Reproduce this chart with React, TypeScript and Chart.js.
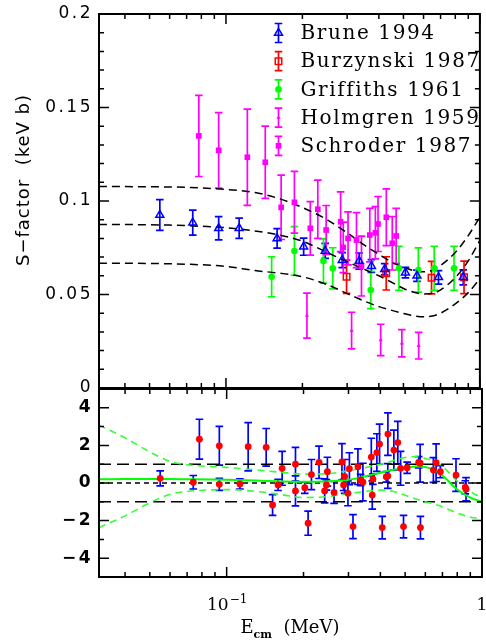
import React, { useEffect, useRef } from "react";
import { Chart, registerables } from "chart.js";

Chart.register(...registerables);

// ---------- axis ranges ----------
const E_MIN = 0.031623;
const E_MAX = 1;
const S_MIN = 0;
const S_MAX = 0.2;
const R_MIN = -5;
const R_MAX = 5;

// ---------- tick labels ----------
const sTickValues = [0, 0.05, 0.1, 0.15, 0.2];
const sTickLabels = ["0", "0.05", "0.1", "0.15", "0.2"];
const rTickValues = [-4, -2, 0, 2, 4];
const rTickLabels = ["\u22124", "\u22122", "0", "2", "4"];
const xMajorTicks = [0.1, 1];
const xMinorTicks = [0.04, 0.05, 0.06, 0.07, 0.08, 0.09, 0.2, 0.3, 0.4, 0.5, 0.6, 0.7, 0.8, 0.9];
const xTickBase = ["10", "1"];
const xTickExp = ["\u22121", ""];

// ---------- measurements: E (MeV), S (keV b), error ----------
const seriesNames = ["Brune 1994", "Burzynski 1987", "Griffiths 1961", "Holmgren 1959", "Schroder 1987"];

const bruneE = [0.0549, 0.074, 0.0936, 0.1127, 0.159, 0.2023, 0.2459, 0.287, 0.3346, 0.3739, 0.4217, 0.509, 0.565, 0.687, 0.86];
const bruneS = [0.0925, 0.0884, 0.0854, 0.0854, 0.080, 0.0756, 0.0733, 0.0684, 0.0679, 0.0652, 0.0635, 0.0617, 0.0600, 0.0592, 0.0592];
const bruneErr = [0.0082, 0.0067, 0.0062, 0.0054, 0.0052, 0.0046, 0.0040, 0.0040, 0.0043, 0.0034, 0.0030, 0.0028, 0.0030, 0.0036, 0.0040];

const burzE = [0.2985, 0.4277, 0.645, 0.866];
const burzS = [0.0595, 0.0613, 0.059, 0.0592];
const burzErr = [0.0089, 0.0089, 0.0087, 0.0087];

const grifE = [0.1513, 0.186, 0.242, 0.2634, 0.3717, 0.48, 0.5723, 0.661, 0.791];
const grifS = [0.0595, 0.0733, 0.0679, 0.064, 0.0524, 0.064, 0.0631, 0.064, 0.064];
const grifErr = [0.0107, 0.013, 0.0118, 0.011, 0.010, 0.0118, 0.0118, 0.0118, 0.0118];

const holmE = [0.2084, 0.3124, 0.4067, 0.4928, 0.574];
const holmS = [0.0387, 0.0307, 0.0257, 0.0239, 0.0226];
const holmErr = [0.012, 0.0098, 0.0084, 0.0073, 0.0071];

const schE = [0.0782, 0.0936, 0.1214, 0.1428, 0.1649, 0.186, 0.2148, 0.23, 0.248, 0.2828, 0.2897, 0.3025, 0.3266, 0.3417, 0.3685, 0.3875, 0.397, 0.428, 0.4517, 0.468];
const schS = [0.1348, 0.1271, 0.1234, 0.1207, 0.0966, 0.0993, 0.0854, 0.0956, 0.0845, 0.0889, 0.0752, 0.080, 0.0791, 0.0652, 0.0818, 0.083, 0.0877, 0.0913, 0.0774, 0.0813];
const schErr = [0.0217, 0.0202, 0.0257, 0.0193, 0.0172, 0.0165, 0.0143, 0.0156, 0.0131, 0.016, 0.0135, 0.0142, 0.0147, 0.016, 0.0143, 0.014, 0.0147, 0.0152, 0.0143, 0.0148];

// ---------- residuals, same energies as above ----------
const bruneRes = [0.25, 0.04, -0.07, -0.05, -0.1, -0.25, -0.1, -0.1, 0.16, 0.21, 0.33, 0.81, 1.1, 0.6, -0.23];
const bruneResErr = [0.4, 0.36, 0.32, 0.27, 0.3, 0.3, 0.28, 0.3, 0.3, 0.28, 0.28, 0.3, 0.3, 0.32, 0.35];
const burzRes = [-0.55, 0.37, 0.69, -0.33];
const burzResErr = [0.66, 0.66, 0.66, 0.62];
const grifRes = [-1.17, -0.42, -0.42, -0.5, -0.64, 0.78, 1.05, 1.08, 0.42];
const grifResErr = [0.55, 0.8, 0.64, 0.58, 0.75, 0.9, 1.0, 1.0, 0.87];
const holmRes = [-2.14, -2.32, -2.37, -2.32, -2.37];
const holmResErr = [0.64, 0.64, 0.6, 0.6, 0.6];
const schRes = [2.33, 1.98, 1.93, 1.9, 0.78, 1.0, 0.45, 1.1, 0.6, 1.12, 0.35, 0.76, 0.87, 0.05, 1.38, 1.62, 2.07, 2.6, 1.75, 2.15];
const schResErr = [1.06, 1.03, 1.28, 1.0, 0.9, 0.9, 0.8, 0.86, 0.77, 0.97, 0.9, 0.85, 0.95, 1.0, 1.0, 1.0, 1.06, 1.13, 1.06, 1.13];

// ---------- fitted curves, sampled on a common energy grid ----------
const curveE = [0.0316, 0.04, 0.05, 0.06, 0.07, 0.1, 0.13, 0.16, 0.2, 0.25, 0.3, 0.35, 0.4, 0.45, 0.5, 0.55, 0.6, 0.65, 0.7, 0.8, 0.9, 1.0];
const fitMid = [0.0875, 0.0874, 0.0873, 0.0871, 0.0868, 0.0857, 0.0840, 0.0820, 0.0785, 0.0725, 0.0675, 0.0635, 0.0600, 0.0565, 0.0532, 0.0512, 0.0503, 0.0505, 0.0525, 0.0590, 0.0680, 0.0790];
const fitHigh = [0.1077, 0.1077, 0.1076, 0.1075, 0.1073, 0.1062, 0.1045, 0.1015, 0.0965, 0.0900, 0.0830, 0.0765, 0.0715, 0.0673, 0.0645, 0.0628, 0.0622, 0.0630, 0.0655, 0.0725, 0.0815, 0.0915];
const fitLow = [0.0667, 0.0667, 0.0666, 0.0664, 0.0662, 0.0650, 0.0628, 0.0615, 0.0595, 0.0553, 0.0505, 0.0465, 0.0435, 0.0415, 0.0398, 0.0386, 0.0381, 0.0385, 0.0400, 0.0450, 0.0510, 0.0585];
const resCurve = [0.20, 0.21, 0.21, 0.21, 0.20, 0.17, 0.13, 0.09, 0.06, 0.09, 0.17, 0.36, 0.55, 0.70, 0.80, 0.88, 0.85, 0.68, 0.40, -0.35, -0.78, -1.0];
const resBandHigh = [3.08, 2.4, 1.65, 1.15, 0.97, 0.83, 0.70, 0.58, 0.47, 0.50, 0.65, 0.82, 1.0, 1.2, 1.36, 1.4, 1.3, 1.15, 0.88, 0.1, -0.45, -0.8];
const resBandLow = [-2.37, -1.75, -1.05, -0.6, -0.45, -0.35, -0.45, -0.6, -0.77, -0.72, -0.56, -0.45, -0.38, -0.45, -0.65, -0.85, -1.0, -1.13, -1.27, -1.6, -1.82, -1.88];
const resLevels = [-1, 0, 1];

// ---------- styling ----------
const BLUE = "#0000ff";
const RED = "#ff0000";
const GREEN = "#00ff00";
const MAGENTA = "#ff00ff";
const LIME = "#33ff33";
const SANS = '"DejaVu Sans", sans-serif';
const SERIF = '"DejaVu Serif", serif';

type Marker = { style: string; r: number; color: string; filled: boolean };
const markers: Marker[] = [
  { style: "triangle", r: 4.6, color: BLUE, filled: false },
  { style: "rect", r: 4.6, color: RED, filled: false },
  { style: "circle", r: 3.3, color: GREEN, filled: true },
  { style: "triangle", r: 2.4, color: MAGENTA, filled: true },
  { style: "rect", r: 4.0, color: MAGENTA, filled: true },
];

const pts = (xs: number[], ys: number[]) => xs.map((x, i) => ({ x, y: ys[i] }));

function drawMarker(ctx: CanvasRenderingContext2D, m: Marker, x: number, y: number) {
  ctx.save();
  ctx.beginPath();
  if (m.style === "circle") {
    ctx.arc(x, y, m.r, 0, Math.PI * 2);
  } else if (m.style === "rect") {
    const h = m.r * Math.SQRT1_2;
    ctx.rect(x - h, y - h, 2 * h, 2 * h);
  } else {
    for (let k = 0; k < 3; k++) {
      const a = (k * 2 * Math.PI) / 3;
      const px = x + Math.sin(a) * m.r;
      const py = y - Math.cos(a) * m.r;
      if (k === 0) ctx.moveTo(px, py);
      else ctx.lineTo(px, py);
    }
    ctx.closePath();
  }
  if (m.filled) {
    ctx.fillStyle = m.color;
    ctx.fill();
  } else {
    ctx.strokeStyle = m.color;
    ctx.lineWidth = 1.5;
    ctx.stroke();
  }
  ctx.restore();
}

function strokeErrorBar(ctx: CanvasRenderingContext2D, x: number, y1: number, y2: number, cap: number) {
  ctx.moveTo(x, y1);
  ctx.lineTo(x, y2);
  ctx.moveTo(x - cap, y1);
  ctx.lineTo(x + cap, y1);
  ctx.moveTo(x - cap, y2);
  ctx.lineTo(x + cap, y2);
}

// vertical error bars for datasets carrying an `errorBars` array
const errorBarPlugin = {
  id: "errorBars",
  beforeDatasetsDraw(chart: any) {
    const { ctx, chartArea: a, scales } = chart;
    ctx.save();
    ctx.beginPath();
    ctx.rect(a.left, a.top, a.right - a.left, a.bottom - a.top);
    ctx.clip();
    chart.data.datasets.forEach((ds: any) => {
      if (!ds.errorBars) return;
      ctx.strokeStyle = ds.errorColor;
      ctx.lineWidth = 1.7;
      ctx.beginPath();
      ds.data.forEach((p: any, i: number) => {
        const e = ds.errorBars[i];
        const x = scales.x.getPixelForValue(p.x);
        strokeErrorBar(ctx, x, scales.y.getPixelForValue(p.y - e), scales.y.getPixelForValue(p.y + e), 3.8);
      });
      ctx.stroke();
    });
    ctx.restore();
  },
};

type PanelCfg = {
  yValues: number[];
  yLabels: string[];
  yMinorStep: number;
  yLabelFont: string;
  yLabelRight: number;
  yTitle: string;
  yTitleX: number;
  yTitleY: number;
  xLabels: boolean;
};

function makeFramePlugin(cfg: PanelCfg) {
  return {
    id: "frame",
    afterDraw(chart: any) {
      const { ctx, chartArea: a, scales } = chart;
      const xs = scales.x;
      const ys = scales.y;
      const MAJ = 10;
      const MIN = 5;
      ctx.save();
      ctx.strokeStyle = "#000";
      ctx.lineWidth = 1.5;
      ctx.beginPath();
      const xTick = (v: number, len: number) => {
        const px = xs.getPixelForValue(v);
        ctx.moveTo(px, a.top);
        ctx.lineTo(px, a.top + len);
        ctx.moveTo(px, a.bottom);
        ctx.lineTo(px, a.bottom - len);
      };
      xMinorTicks.forEach((v) => xTick(v, MIN));
      xMajorTicks.forEach((v) => xTick(v, MAJ));
      const yTick = (v: number, len: number) => {
        const py = ys.getPixelForValue(v);
        ctx.moveTo(a.left, py);
        ctx.lineTo(a.left + len, py);
        ctx.moveTo(a.right, py);
        ctx.lineTo(a.right - len, py);
      };
      const lo = ys.min;
      const hi = ys.max;
      for (let v = lo; v <= hi + 1e-9; v += cfg.yMinorStep) yTick(v, MIN);
      cfg.yValues.forEach((v) => yTick(v, MAJ));
      ctx.stroke();

      ctx.lineWidth = 2;
      ctx.strokeRect(a.left, a.top, a.right - a.left, a.bottom - a.top);

      // y tick labels
      ctx.fillStyle = "#000";
      ctx.font = cfg.yLabelFont;
      (ctx as any).letterSpacing = "2.5px";
      ctx.textAlign = "right";
      ctx.textBaseline = "middle";
      cfg.yValues.forEach((v, i) => {
        ctx.fillText(cfg.yLabels[i], cfg.yLabelRight, ys.getPixelForValue(v));
      });

      // y title
      ctx.save();
      ctx.translate(cfg.yTitleX, cfg.yTitleY);
      ctx.rotate(-Math.PI / 2);
      ctx.font = `18px ${SANS}`;
      (ctx as any).letterSpacing = "1px";
      ctx.textAlign = "center";
      ctx.textBaseline = "middle";
      ctx.fillText(cfg.yTitle, 0, 0);
      ctx.restore();

      if (cfg.xLabels) {
        (ctx as any).letterSpacing = "0px";
        ctx.textBaseline = "alphabetic";
        const base = a.bottom + 33;
        xMajorTicks.forEach((v, i) => {
          const px = xs.getPixelForValue(v);
          ctx.font = `17px ${SERIF}`;
          const wb = ctx.measureText(xTickBase[i]).width;
          ctx.font = `12px ${SERIF}`;
          const we = xTickExp[i] ? ctx.measureText(xTickExp[i]).width : 0;
          const start = px - (wb + we) / 2;
          ctx.textAlign = "left";
          ctx.font = `17px ${SERIF}`;
          ctx.fillText(xTickBase[i], start, base);
          if (xTickExp[i]) {
            ctx.font = `12px ${SERIF}`;
            ctx.fillText(xTickExp[i], start + wb + 1, base - 7);
          }
        });
        // x title: E_cm (MeV)
        const tb = a.bottom + 56;
        ctx.font = `18px ${SERIF}`;
        const wE = ctx.measureText("E").width;
        const wRest = ctx.measureText("  (MeV)").width;
        ctx.font = `bold 11px ${SERIF}`;
        const wSub = ctx.measureText("cm").width;
        const x0 = 290 - (wE + wSub + wRest) / 2;
        ctx.textAlign = "left";
        ctx.font = `18px ${SERIF}`;
        ctx.fillText("E", x0, tb);
        ctx.font = `bold 11px ${SERIF}`;
        ctx.fillText("cm", x0 + wE, tb + 5);
        ctx.font = `18px ${SERIF}`;
        ctx.fillText("  (MeV)", x0 + wE + wSub, tb);
      }
      ctx.restore();
    },
  };
}

// legend with error-bar glyphs, upper right of the S-factor panel
const legendPlugin = {
  id: "seriesLegend",
  afterDraw(chart: any) {
    const { ctx } = chart;
    ctx.save();
    seriesNames.forEach((name, i) => {
      const y = 33 + i * 28.2;
      const x = 278.5;
      const m = markers[i];
      ctx.strokeStyle = m.color;
      ctx.lineWidth = 1.7;
      ctx.beginPath();
      strokeErrorBar(ctx, x, y - 9.5, y + 9.5, 3.8);
      ctx.stroke();
      drawMarker(ctx, m, x, y);
      ctx.fillStyle = "#000";
      ctx.font = `20px ${SERIF}`;
      (ctx as any).letterSpacing = "1.6px";
      ctx.textAlign = "left";
      ctx.textBaseline = "middle";
      ctx.fillText(name, 300.5, y + 1);
    });
    ctx.restore();
  },
};

function dataSet(m: Marker, data: any[], errs: number[], errColor: string) {
  return {
    data,
    errorBars: errs,
    errorColor: errColor,
    pointStyle: m.style,
    pointRadius: m.r,
    pointBorderWidth: m.filled ? 0 : 1.5,
    pointBorderColor: m.color,
    pointBackgroundColor: m.filled ? m.color : "rgba(0,0,0,0)",
    showLine: false,
    order: 0,
  };
}

function curve(ys: number[], color: string, dash: number[], width: number) {
  return {
    data: pts(curveE, ys),
    showLine: true,
    pointRadius: 0,
    borderColor: color,
    borderWidth: width,
    borderDash: dash,
    cubicInterpolationMode: "monotone",
    fill: false,
    order: 1,
  };
}

function level(v: number, dash: number[]) {
  return {
    data: [
      { x: E_MIN, y: v },
      { x: E_MAX, y: v },
    ],
    showLine: true,
    pointRadius: 0,
    borderColor: "#000",
    borderWidth: 1.6,
    borderDash: dash,
    fill: false,
    order: 2,
  };
}

const baseOptions = (padding: any, yMin: number, yMax: number) => ({
  animation: false,
  responsive: false,
  devicePixelRatio: 1,
  layout: { padding },
  scales: {
    x: { type: "logarithmic", min: E_MIN, max: E_MAX, display: false },
    y: { type: "linear", min: yMin, max: yMax, display: false },
  },
  plugins: { legend: { display: false }, tooltip: { enabled: false } },
});

export default function App() {
  const topRef = useRef<HTMLCanvasElement>(null);
  const botRef = useRef<HTMLCanvasElement>(null);

  useEffect(() => {
    if (!topRef.current || !botRef.current) return;

    const topChart = new Chart(topRef.current, {
      type: "scatter",
      data: {
        datasets: [
          dataSet(markers[0], pts(bruneE, bruneS), bruneErr, BLUE),
          dataSet(markers[1], pts(burzE, burzS), burzErr, RED),
          dataSet(markers[2], pts(grifE, grifS), grifErr, GREEN),
          dataSet(markers[3], pts(holmE, holmS), holmErr, MAGENTA),
          dataSet(markers[4], pts(schE, schS), schErr, MAGENTA),
          curve(fitHigh, "#000", [8, 5], 1.5),
          curve(fitMid, "#000", [8, 5], 1.5),
          curve(fitLow, "#000", [8, 5], 1.5),
        ] as any,
      },
      options: baseOptions({ left: 99, right: 3, top: 14, bottom: 12 }, S_MIN, S_MAX) as any,
      plugins: [
        errorBarPlugin,
        makeFramePlugin({
          yValues: sTickValues,
          yLabels: sTickLabels,
          yMinorStep: 0.01,
          yLabelFont: `17px ${SANS}`,
          yLabelRight: 93,
          yTitle: "S\u2212factor  (keV b)",
          yTitleX: 24,
          yTitleY: 180,
          xLabels: false,
        }),
        legendPlugin,
      ] as any,
    });

    const resE = [...bruneE, ...burzE, ...grifE, ...holmE, ...schE];
    const resV = [...bruneRes, ...burzRes, ...grifRes, ...holmRes, ...schRes];
    const resErr = [...bruneResErr, ...burzResErr, ...grifResErr, ...holmResErr, ...schResErr];
    const resMarker: Marker = { style: "circle", r: 3.4, color: RED, filled: true };

    const botChart = new Chart(botRef.current, {
      type: "scatter",
      data: {
        datasets: [
          dataSet(resMarker, pts(resE, resV), resErr, BLUE),
          curve(resCurve, GREEN, [], 2),
          curve(resBandHigh, LIME, [7, 5], 1.6),
          curve(resBandLow, LIME, [7, 5], 1.6),
          level(resLevels[0], [12, 6]),
          level(resLevels[1], [5, 4]),
          level(resLevels[2], [12, 6]),
        ] as any,
      },
      options: baseOptions({ left: 99, right: 3, top: 9, bottom: 65 }, R_MIN, R_MAX) as any,
      plugins: [
        errorBarPlugin,
        makeFramePlugin({
          yValues: rTickValues,
          yLabels: rTickLabels,
          yMinorStep: 1,
          yLabelFont: `bold 17px ${SANS}`,
          yLabelRight: 93,
          yTitle: "Residual",
          yTitleX: 42,
          yTitleY: 484,
          xLabels: true,
        }),
      ] as any,
    });

    return () => {
      topChart.destroy();
      botChart.destroy();
    };
  }, []);

  return (
    <div style={{ position: "absolute", left: 0, top: 0, width: 486, height: 642, background: "#fff" }}>
      <canvas ref={topRef} width={486} height={400} style={{ position: "absolute", left: 0, top: 0, display: "block" }} />
      <canvas ref={botRef} width={486} height={262} style={{ position: "absolute", left: 0, top: 380, display: "block" }} />
    </div>
  );
}
